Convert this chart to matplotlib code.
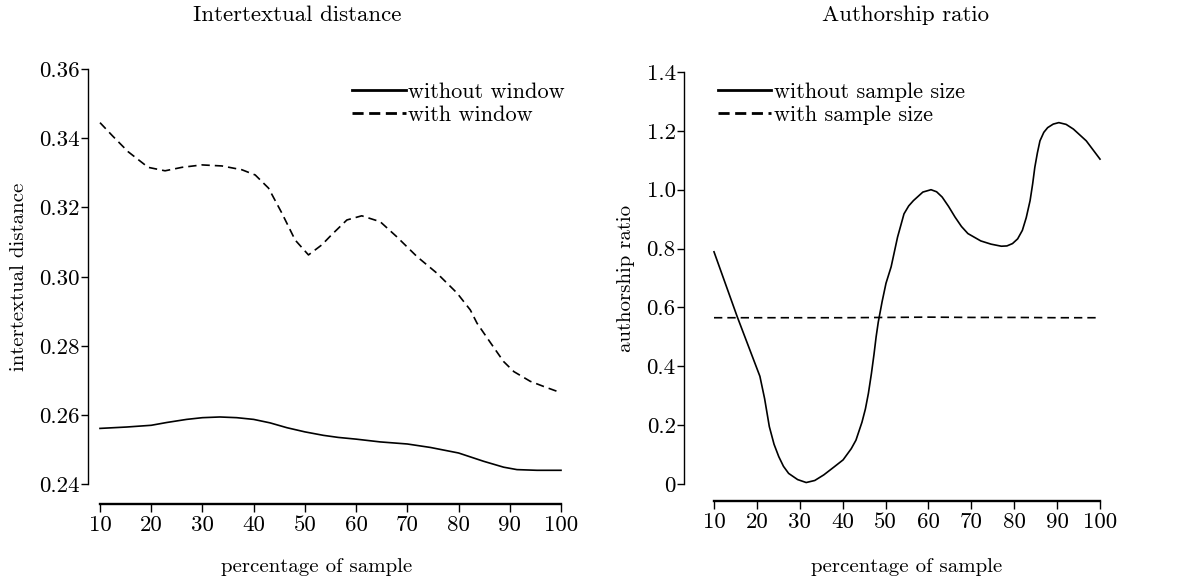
import matplotlib
matplotlib.use("Agg")
import matplotlib.pyplot as plt
from matplotlib.lines import Line2D

# Computer Modern, shipped with matplotlib
plt.rcParams['font.family'] = 'serif'
plt.rcParams['font.serif'] = ['cmr10']
plt.rcParams['mathtext.fontset'] = 'cm'
plt.rcParams['axes.unicode_minus'] = False

# ---- data: intertextual distance ----
pct_no_window = [10, 15.2, 20, 23, 26.9, 30, 33.4, 36.7, 40, 43.2, 46.5, 50, 53.6,
                 56.5, 60, 64.7, 70, 74.5, 80, 84.9, 88.8, 91.4, 95.3, 100]
dist_no_window = [0.2562, 0.2566, 0.2571, 0.2579, 0.2588, 0.2593, 0.2595, 0.2593,
                  0.2588, 0.2578, 0.2564, 0.2552, 0.2542, 0.2536, 0.2531, 0.2523,
                  0.2517, 0.2507, 0.2491, 0.2467, 0.2450, 0.2443, 0.2441, 0.2441]

pct_window = [10, 12.5, 15.5, 19.4, 22.7, 26, 29.9, 33.8, 37.7, 40.3, 42.9, 45.5,
              48.1, 50.7, 53.3, 55.2, 58.2, 61.1, 64.7, 67.9, 71.9, 75.8, 79.7,
              82.3, 83.6, 86.3, 88.8, 90.8, 94, 97, 100]
dist_window = [0.3445, 0.3406, 0.3361, 0.3316, 0.3306, 0.3316, 0.3323, 0.3320,
               0.3309, 0.3294, 0.3256, 0.3184, 0.3106, 0.3063, 0.3092, 0.3121,
               0.3164, 0.3176, 0.3159, 0.3116, 0.3058, 0.3010, 0.2953, 0.2904,
               0.2866, 0.2808, 0.2755, 0.2726, 0.2698, 0.2681, 0.2665]

# ---- data: authorship ratio ----
pct_no_size = [10, 15.4, 20.7, 21.8, 22.9, 24, 25.1, 26.2, 27.4, 29.5, 31.5, 33.5,
               35.6, 38, 40.1, 42, 43.1, 44.5, 45.3, 46, 46.7, 47.3, 47.8, 48.3,
               49.2, 50.1, 51.3, 52.8, 54.3, 55.4, 56.5, 58.7, 60.6, 61.9, 63.2,
               64.7, 66.2, 67.7, 69.2, 72.2, 74.6, 77, 78.3, 79.6, 80.8, 81.9,
               82.8, 83.7, 84.3, 84.8, 85.4, 86, 86.9, 87.8, 89.1, 90.4, 92.1,
               93.8, 96.8, 100]
ratio_no_size = [0.789, 0.569, 0.366, 0.29, 0.195, 0.135, 0.093, 0.06, 0.036,
                 0.015, 0.005, 0.012, 0.031, 0.058, 0.082, 0.12, 0.149, 0.21,
                 0.255, 0.308, 0.375, 0.44, 0.50, 0.55, 0.62, 0.682, 0.738, 0.839,
                 0.918, 0.945, 0.963, 0.992, 1.0, 0.993, 0.975, 0.943, 0.907,
                 0.875, 0.851, 0.826, 0.815, 0.808, 0.809, 0.817, 0.833, 0.862,
                 0.905, 0.963, 1.02, 1.076, 1.125, 1.166, 1.195, 1.211, 1.223,
                 1.228, 1.222, 1.206, 1.166, 1.104]

pct_size = [10, 20, 30, 40, 50, 60, 70, 80, 90, 100]
ratio_size = [0.565, 0.565, 0.565, 0.565, 0.566, 0.567, 0.566, 0.566, 0.565, 0.565]

x_ticks = [10, 20, 30, 40, 50, 60, 70, 80, 90, 100]
dist_ticks = [0.24, 0.26, 0.28, 0.30, 0.32, 0.34, 0.36]
dist_ticklabels = ['0.24', '0.26', '0.28', '0.30', '0.32', '0.34', '0.36']
ratio_ticks = [0, 0.2, 0.4, 0.6, 0.8, 1.0, 1.2, 1.4]
ratio_ticklabels = ['0', '0.2', '0.4', '0.6', '0.8', '1.0', '1.2', '1.4']

W, H = 1200, 583
fig = plt.figure(figsize=(W / 100, H / 100), dpi=100)


def px_axes(x0, x1, ytop, ybot):
    return fig.add_axes([x0 / W, 1 - ybot / H, (x1 - x0) / W, (ybot - ytop) / H])


def style_axes(ax, left_out, bottom_out):
    for s in ['top', 'right']:
        ax.spines[s].set_visible(False)
    ax.spines['left'].set_position(('outward', left_out * 0.72))
    ax.spines['bottom'].set_position(('outward', bottom_out * 0.72))
    ax.spines['left'].set_linewidth(1.0)
    ax.spines['bottom'].set_linewidth(1.7)
    ax.spines['bottom'].set_bounds(10, 100)
    ax.tick_params(axis='y', direction='out', length=5, width=1.0, pad=1,
                   labelsize=16.5)
    ax.tick_params(axis='x', direction='out', length=5.5, width=1.0, pad=3,
                   labelsize=16.5)
    ax.set_xlim(10, 100)
    ax.set_xticks(x_ticks)
    ax.set_xticklabels([str(t) for t in x_ticks])


dash = (0, (5, 3))
leg_kw = dict(loc='upper left', frameon=False, fontsize=16, handlelength=2.4,
              handletextpad=0.12, labelspacing=0.14, borderpad=0, borderaxespad=0)

# left panel
ax1 = px_axes(100, 561, 69, 484.5)
style_axes(ax1, 12, 19)
ax1.plot(pct_no_window, dist_no_window, color='black', lw=1.2, clip_on=False)
ax1.plot(pct_window, dist_window, color='black', lw=1.2, ls=dash, clip_on=False)
ax1.set_ylim(0.24, 0.36)
ax1.set_yticks(dist_ticks)
ax1.set_yticklabels(dist_ticklabels)
ax1.set_xlabel('percentage of sample', fontsize=15)
ax1.xaxis.set_label_coords(0.469, -0.176)
ax1.set_ylabel('intertextual distance', fontsize=15)
ax1.yaxis.set_label_coords(-0.156, 0.5)
handles1 = [Line2D([], [], color='black', lw=2.0),
            Line2D([], [], color='black', lw=2.0, ls=(0, (4, 2)))]
ax1.legend(handles1, ['without window', 'with window'],
           bbox_to_anchor=(0.547, 0.968), **leg_kw)

# right panel
ax2 = px_axes(714, 1100, 72, 484)
style_axes(ax2, 30, 17)
ax2.plot(pct_no_size, ratio_no_size, color='black', lw=1.2, clip_on=False)
ax2.plot(pct_size, ratio_size, color='black', lw=1.2, ls=dash, clip_on=False)
ax2.set_ylim(0, 1.4)
ax2.set_yticks(ratio_ticks)
ax2.set_yticklabels(ratio_ticklabels)
ax2.set_xlabel('percentage of sample', fontsize=15)
ax2.xaxis.set_label_coords(0.5, -0.18)
ax2.set_ylabel('authorship ratio', fontsize=15)
ax2.yaxis.set_label_coords(-0.205, 0.5)
handles2 = [Line2D([], [], color='black', lw=2.0),
            Line2D([], [], color='black', lw=2.0, ls=(0, (4, 2)))]
ax2.legend(handles2, ['without sample size', 'with sample size'],
           bbox_to_anchor=(0.01, 0.975), **leg_kw)

fig.text(297 / W, 1 - 15 / H, 'Intertextual distance', ha='center', va='center',
         fontsize=16.5)
fig.text(906 / W, 1 - 15 / H, 'Authorship ratio', ha='center', va='center',
         fontsize=16.5)

fig.savefig('out.png', dpi=100)
